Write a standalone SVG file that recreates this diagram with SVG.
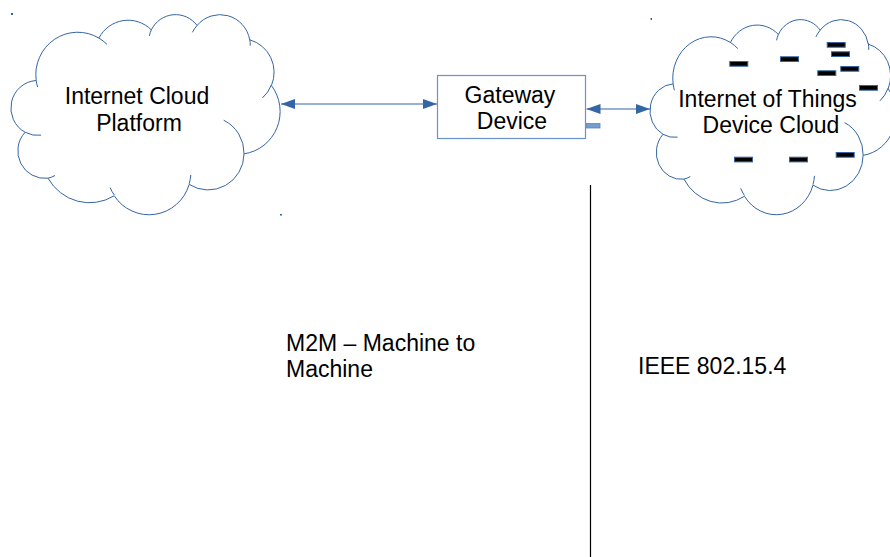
<svg xmlns="http://www.w3.org/2000/svg" width="890" height="557" viewBox="0 0 890 557">
<style>
.cl{fill:#fff;stroke:#3465a4;stroke-width:1;vector-effect:non-scaling-stroke}
.ci{fill:none;stroke:#3465a4;stroke-width:1;vector-effect:non-scaling-stroke}
.t{font-family:"Liberation Sans",Arial,sans-serif;font-size:23px;fill:#000}
.m{text-anchor:middle}
.con{stroke:#3465a4;stroke-width:1.1;fill:none}
.dash{fill:#000;stroke:#3465a4;stroke-width:1}
.dot{fill:#3465a4}
</style>
<defs>
<marker id="arr" viewBox="0 0 14 10" refX="14" refY="5" markerWidth="14" markerHeight="10" markerUnits="userSpaceOnUse" orient="auto-start-reverse">
<path d="M0,0 L14,5 L0,10 Z" fill="#3465a4"/>
</marker>
</defs>
<rect width="890" height="557" fill="#fff"/>

<g id="cloud-platform">
<g transform="translate(12,14) scale(2.68,2.0)">
<path class="cl" vector-effect="non-scaling-stroke" d="M 9.03 33.26 A 15.63 21.27 0 0 1 32.42 12.04 A 12.35 16.82 0 0 1 51.99 7.94 A 10.10 13.76 0 0 1 69.06 5.73 A 11.24 15.27 0 0 1 88.70 12.90 A 12.35 16.84 0 0 1 96.80 35.78 A 15.68 21.34 0 0 1 86.59 69.91 A 13.39 18.21 0 0 1 66.11 85.21 A 15.63 21.33 0 0 1 38.15 90.89 A 17.87 24.41 0 0 1 13.44 82.10 A 10.09 13.70 0 0 1 4.90 59.13 A 10.06 13.76 0 0 1 9.03 33.26 Z"/>
<path class="ci" vector-effect="non-scaling-stroke" d="M 10.86 60.59 A 10.06 13.76 0 0 1 4.90 59.13 M 16.04 80.78 A 10.09 13.70 0 0 1 13.44 82.10 M 38.14 90.49 A 15.63 21.33 0 0 1 36.61 86.86 M 66.73 80.44 A 15.63 21.33 0 0 1 66.11 84.9 M 79.00 53.13 A 13.39 18.21 0 0 1 86.59 69.91 M 96.75 35.54 A 12.35 16.84 0 0 1 93.45 41.97 M 88.71 12.56 A 11.24 15.27 0 0 1 88.88 15.82 M 67.31 9.15 A 11.24 15.27 0 0 1 69.06 5.73 M 51.25 10.93 A 10.10 13.76 0 0 1 51.99 7.94 M 32.41 12.02 A 15.63 21.27 0 0 1 35.43 15.16 M 9.55 36.55 A 15.63 21.27 0 0 1 9.03 33.26"/>
</g>
<text class="t m" x="137" y="104">Internet Cloud</text>
<text class="t m" x="139" y="130.5">Platform</text>
</g>

<g id="gateway">
<rect x="437.5" y="75.5" width="148" height="63" fill="#fff" stroke="#6a93c9" stroke-width="1.2"/>
<rect x="586.5" y="123.5" width="13.5" height="4.5" fill="#729fcf" stroke="#5b86bf" stroke-width="0.8"/>
<text class="t m" x="510" y="103">Gateway</text>
<text class="t m" x="512" y="129">Device</text>
</g>

<g id="iot-cloud">
<g transform="translate(651,19) scale(2.45,1.95)">
<path class="cl" vector-effect="non-scaling-stroke" d="M 9.03 33.26 A 15.63 21.27 0 0 1 32.42 12.04 A 12.35 16.82 0 0 1 51.99 7.94 A 10.10 13.76 0 0 1 69.06 5.73 A 11.24 15.27 0 0 1 88.70 12.90 A 12.35 16.84 0 0 1 96.80 35.78 A 15.68 21.34 0 0 1 86.59 69.91 A 13.39 18.21 0 0 1 66.11 85.21 A 15.63 21.33 0 0 1 38.15 90.89 A 17.87 24.41 0 0 1 13.44 82.10 A 10.09 13.70 0 0 1 4.90 59.13 A 10.06 13.76 0 0 1 9.03 33.26 Z"/>
<path class="ci" vector-effect="non-scaling-stroke" d="M 10.86 60.59 A 10.06 13.76 0 0 1 4.90 59.13 M 16.04 80.78 A 10.09 13.70 0 0 1 13.44 82.10 M 38.14 90.49 A 15.63 21.33 0 0 1 36.61 86.86 M 66.73 80.44 A 15.63 21.33 0 0 1 66.11 84.9 M 79.00 53.13 A 13.39 18.21 0 0 1 86.59 69.91 M 96.75 35.54 A 12.35 16.84 0 0 1 93.45 41.97 M 88.71 12.56 A 11.24 15.27 0 0 1 88.88 15.82 M 67.31 9.15 A 11.24 15.27 0 0 1 69.06 5.73 M 51.25 10.93 A 10.10 13.76 0 0 1 51.99 7.94 M 32.41 12.02 A 15.63 21.27 0 0 1 35.43 15.16 M 9.55 36.55 A 15.63 21.27 0 0 1 9.03 33.26"/>
</g>
<rect class="dash" x="729.8" y="61.5" width="18" height="4.7"/>
<rect class="dash" x="780.5" y="56.8" width="18" height="4.7"/>
<rect class="dash" x="827.2" y="42.5" width="18" height="4.7"/>
<rect class="dash" x="831.5" y="51.8" width="18" height="4.7"/>
<rect class="dash" x="817.8" y="70.8" width="18" height="4.7"/>
<rect class="dash" x="840.8" y="66.5" width="18" height="4.7"/>
<rect class="dash" x="859.5" y="85.5" width="18" height="4.7"/>
<rect class="dash" x="734.5" y="157.2" width="18" height="4.7"/>
<rect class="dash" x="789.5" y="157.2" width="18" height="4.7"/>
<rect class="dash" x="836.2" y="152.5" width="18" height="4.7"/>
<text class="t m" x="767.5" y="107">Internet of Things</text>
<text class="t m" x="771" y="133">Device Cloud</text>
</g>

<g id="connectors">
<line class="con" x1="281" y1="104" x2="437" y2="104" marker-start="url(#arr)" marker-end="url(#arr)"/>
<line class="con" x1="586.5" y1="109" x2="650" y2="109" marker-start="url(#arr)" marker-end="url(#arr)"/>
<line x1="590.5" y1="185" x2="590.5" y2="557" stroke="#000" stroke-width="1.2"/>
</g>

<g id="labels">
<text class="t" x="286" y="351">M2M – Machine to</text>
<text class="t" x="286" y="377">Machine</text>
<text class="t" x="638" y="373.5">IEEE 802.15.4</text>
</g>

<g id="markers">
<rect class="dot" x="11" y="13" width="2" height="2"/>
<rect class="dot" x="280" y="214" width="2" height="1.5"/>
<rect class="dot" x="650.5" y="18" width="1.5" height="2"/>
</g>
</svg>
